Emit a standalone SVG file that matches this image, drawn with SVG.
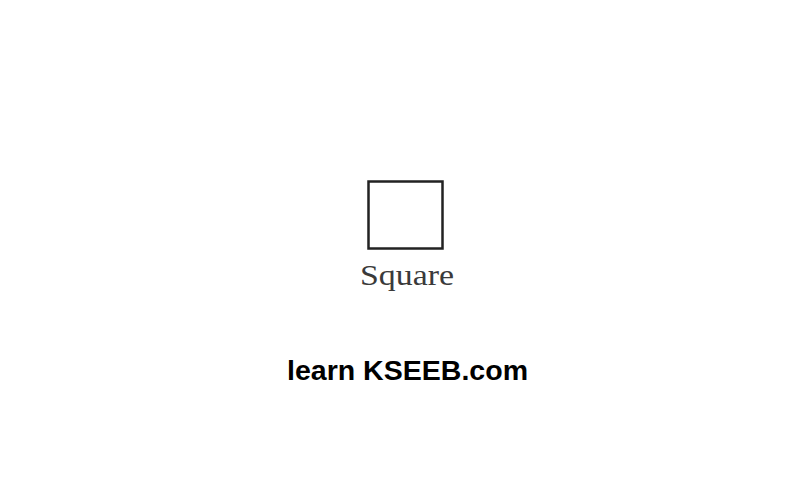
<svg xmlns="http://www.w3.org/2000/svg" width="786" height="485" viewBox="0 0 786 485">
<style>
.shape{fill:none;stroke:#222;stroke-width:2.5}
.lbl{font-family:"Liberation Serif","Times New Roman",serif;font-size:30px;fill:#3a3a3a}
.brand{font-family:"Liberation Sans",Arial,sans-serif;font-weight:bold;font-size:27px;fill:#000}
</style>
<rect width="786" height="485" fill="#fff"/>
<g id="square">
<rect class="shape" x="368.5" y="181.5" width="74" height="67"/>
<text class="lbl" x="407" y="285" text-anchor="middle" textLength="94" lengthAdjust="spacingAndGlyphs">Square</text>
</g>
<g id="brand">
<text class="brand" x="407.5" y="380" text-anchor="middle" textLength="241" lengthAdjust="spacingAndGlyphs">learn KSEEB.com</text>
</g>
</svg>
